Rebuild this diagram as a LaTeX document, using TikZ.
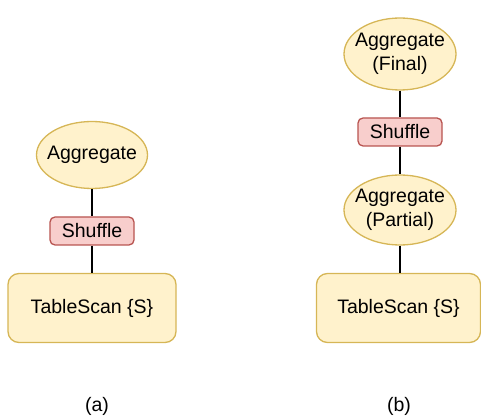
\documentclass[tikz,border=0pt]{standalone}
\usepackage{fontspec}
\setmainfont{Liberation Sans}
\usetikzlibrary{shapes.geometric}
\definecolor{yfill}{HTML}{FFF2CC}
\definecolor{ydraw}{HTML}{D6B656}
\definecolor{rfill}{HTML}{F8CECC}
\definecolor{rdraw}{HTML}{B85450}
\begin{document}
\begin{tikzpicture}[x=1pt,y=-1pt,
  every node/.style={font=\fontsize{19.5}{24.5}\selectfont, inner sep=0pt, align=center},
  agg/.style={ellipse, draw=ydraw, fill=yfill, line width=1.3pt},
  shuf/.style={rectangle, rounded corners=5pt, draw=rdraw, fill=rfill, line width=1.3pt},
  scan/.style={rectangle, rounded corners=11pt, draw=ydraw, fill=yfill, line width=1.3pt},
  link/.style={line width=1.2pt, black}]
\useasboundingbox (0,0) rectangle (481,419);
% (a)
\node[agg, minimum width=111pt, minimum height=67pt] (a1) at (92,155) {};
\node (a1t) at (a1.center) {Aggregate};
\node[shuf, minimum width=84pt, minimum height=28pt] (a2) at (92,231) {Shuffle};
\node[scan, minimum width=168pt, minimum height=69pt] (a3) at (92,308) {TableScan \{S\}};
\draw[link] (a1) -- (a2);
\draw[link] (a2) -- (a3);
\node (la) at (97,406) {(a)};
% (b)
\node[agg, minimum width=112pt, minimum height=72pt] (b1) at (400,54) {};
\node (b1t) at (b1.center) {Aggregate\\(Final)};
\node[shuf, minimum width=84pt, minimum height=28pt] (b2) at (400,132) {Shuffle};
\node[agg, minimum width=112pt, minimum height=70pt] (b3) at (400,210) {};
\node (b3t) at (b3.center) {Aggregate\\(Partial)};
\node[scan, minimum width=164pt, minimum height=69pt] (b4) at (398.5,308) {TableScan \{S\}};
\draw[link] (b1) -- (b2);
\draw[link] (b2) -- (b3);
\draw[link] (b3) -- (b3 |- b4.north);
\node (lb) at (399,406) {(b)};
\end{tikzpicture}
\end{document}
